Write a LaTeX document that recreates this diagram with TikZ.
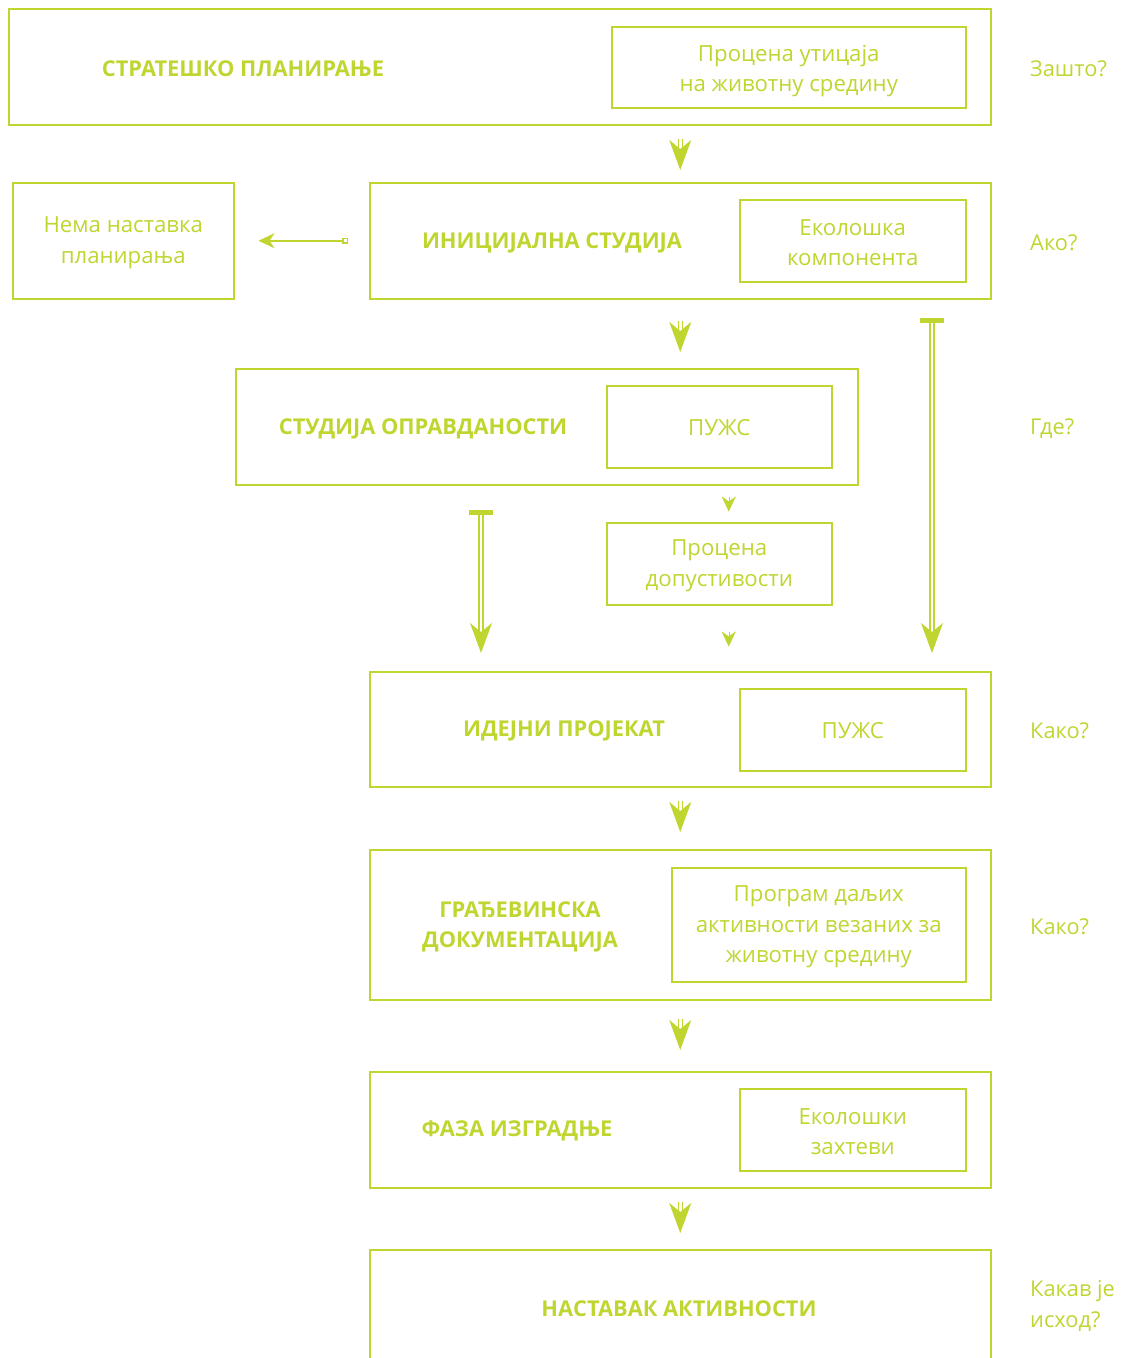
\documentclass[tikz,border=0pt]{standalone}
\usepackage{fontspec}
\setmainfont{Open Sans}
\usetikzlibrary{arrows.meta}
\definecolor{lime}{RGB}{192,213,48}
\begin{document}
\begin{tikzpicture}[x=1pt,y=-1pt,
  box/.style={draw=lime, line width=1.5pt, inner sep=0pt, anchor=north west},
  title/.style={text=lime, font=\bfseries\fontsize{21.8}{30}\selectfont, align=center, inner sep=0pt},
  txt/.style={text=lime, font=\fontsize{22.2}{30.5}\selectfont, align=center, inner sep=0pt},
  ask/.style={text=lime, font=\fontsize{21.8}{31}\selectfont, align=left, anchor=west, inner sep=0pt},
  dblarrow/.style={draw=lime, line width=1.5pt, double=white, double distance=2.5pt,
    -{Stealth[length=30pt,width=22pt,inset=9pt]}},
  longarrow/.style={draw=lime, line width=1.5pt, double=white, double distance=2.5pt,
    {Bar[width=24pt,line width=5pt]}-{Stealth[length=30pt,width=22pt,inset=9pt]}},
  thinarrow/.style={draw=lime, line width=1.5pt,
    {Square[open,length=6pt,width=6pt]}-{Stealth[length=16pt,width=15pt,inset=5pt]}},
  tiponly/.style={draw=lime, line width=0.1pt, -{Stealth[length=15pt,width=14pt,inset=5pt]}}
]
\useasboundingbox (0,0) rectangle (1123,1358);
\clip (0,0) rectangle (1123,1358);

% stage 1
\node[box, minimum width=982pt, minimum height=116pt] (b1) at (8,8) {};
\node[box, minimum width=354pt, minimum height=81pt] (b1in) at (611,26) {};
\node[title] (t1) at (243,69) {СТРАТЕШКО ПЛАНИРАЊЕ};
\node[txt] at ([yshift=-4pt]b1in.center) {Процена утицаја\\на животну средину};

% stage 2
\node[box, minimum width=621pt, minimum height=116pt] (b2) at (369,182) {};
\node[box, minimum width=226pt, minimum height=82pt] (b2in) at (739,199) {};
\node[title] (t2) at (552,243) {ИНИЦИЈАЛНА СТУДИЈА};
\node[txt] at ([yshift=-2pt]b2in.center) {Еколошка\\компонента};
\node[box, minimum width=221pt, minimum height=116pt] (stop) at (12,182) {};
\node[txt] at ([yshift=-2pt]stop.center) {Нема наставка\\планирања};

% stage 3
\node[box, minimum width=622pt, minimum height=116pt] (b3) at (235,368) {};
\node[box, minimum width=225pt, minimum height=82pt] (b3in) at (606,385) {};
\node[title] (t3) at (423,429) {СТУДИЈА ОПРАВДАНОСТИ};
\node[txt] at ([yshift=-1pt]b3in.center) {ПУЖС};
\node[box, minimum width=225pt, minimum height=82pt] (perm) at (606,522) {};
\node[txt] at ([yshift=-2pt]perm.center) {Процена\\допустивости};

% stage 4
\node[box, minimum width=621pt, minimum height=115pt] (b4) at (369,671) {};
\node[box, minimum width=226pt, minimum height=82pt] (b4in) at (739,688) {};
\node[title] (t4) at (564,731) {ИДЕЈНИ ПРОЈЕКАТ};
\node[txt] at ([yshift=-1pt]b4in.center) {ПУЖС};

% stage 5
\node[box, minimum width=621pt, minimum height=150pt] (b5) at (369,849) {};
\node[box, minimum width=294pt, minimum height=114pt] (b5in) at (671,867) {};
\node[title] (t5) at (520,927) {ГРАЂЕВИНСКА\\ДОКУМЕНТАЦИЈА};
\node[txt] at ([yshift=-2pt]b5in.center) {Програм даљих\\активности везаних за\\животну средину};

% stage 6
\node[box, minimum width=621pt, minimum height=116pt] (b6) at (369,1071) {};
\node[box, minimum width=226pt, minimum height=82pt] (b6in) at (739,1088) {};
\node[title] (t6) at (517,1131) {ФАЗА ИЗГРАДЊЕ};
\node[txt] at ([yshift=-2pt]b6in.center) {Еколошки\\захтеви};

% stage 7
\node[box, minimum width=621pt, minimum height=140pt] (b7) at (369,1249) {};
\node[title] (t7) at (679,1309) {НАСТАВАК АКТИВНОСТИ};

% questions
\node[ask] at (1030,69) {Зашто?};
\node[ask] at (1030,243) {Ако?};
\node[ask] at (1030,429) {Где?};
\node[ask] at (1030,731) {Како?};
\node[ask] at (1030,927) {Како?};
\node[ask] at (1030,1306) {Какав је\\исход?};

% main flow
\draw[dblarrow, shorten <=13pt, shorten >=12pt] (b2.north |- b1.south) -- (b2.north);
\draw[dblarrow, shorten <=21pt, shorten >=16pt] (b2.south) -- (b2.south |- b3.north);
\draw[dblarrow, shorten <=13pt, shorten >=17pt] (b4.south) -- (b5.north);
\draw[dblarrow, shorten <=18pt, shorten >=21pt] (b5.south) -- (b6.north);
\draw[dblarrow, shorten <=13pt, shorten >=16pt] (b6.south) -- (b7.north);

% side exits
\draw[thinarrow, shorten <=21pt, shorten >=24pt] (b2.west |- stop.east) -- (stop.east);
\coordinate (skipA) at (932,298);
\coordinate (skipB) at (481,484);
\draw[longarrow, shorten <=20pt, shorten >=18pt] (skipA) -- (skipA |- b4.north);
\draw[longarrow, shorten <=26pt, shorten >=18pt] (skipB) -- (skipB |- b4.north);

% permit assessment tips
\draw[tiponly] ([xshift=9.5pt]b3in.south |- b3.south) ++(0,11) -- ++(0,15);
\draw[tiponly] ([xshift=9.5pt]perm.south) ++(0,26) -- ++(0,15);
\end{tikzpicture}
\end{document}
